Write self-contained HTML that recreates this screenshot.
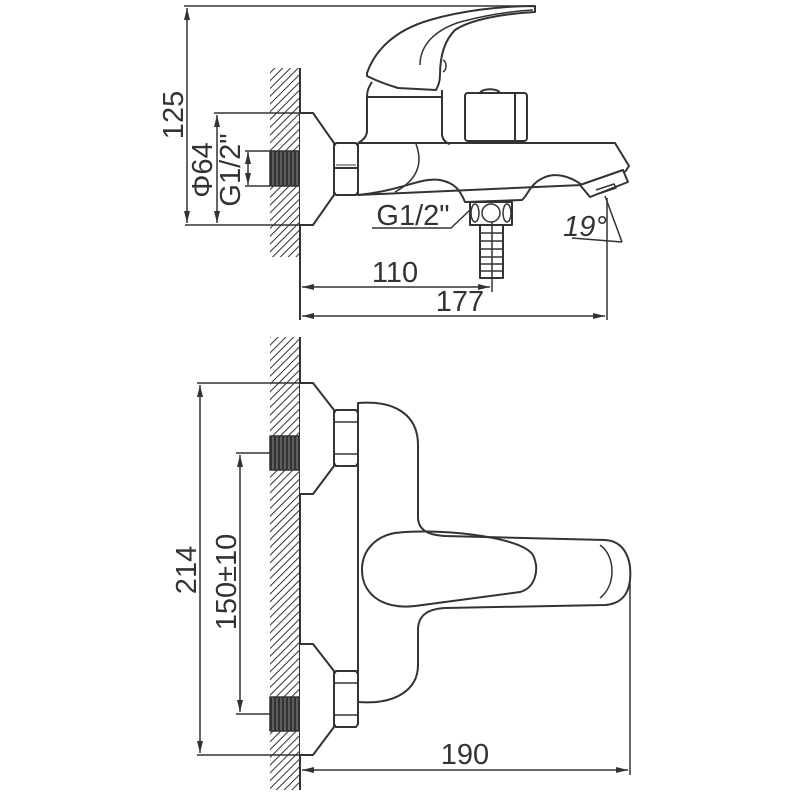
<!DOCTYPE html>
<html><head><meta charset="utf-8"><style>
html,body{margin:0;padding:0;background:#fff}
svg{display:block}
text{font-family:"Liberation Sans",Arial,sans-serif;fill:#333}
</style></head><body>
<svg width="800" height="800" viewBox="0 0 800 800" xmlns="http://www.w3.org/2000/svg">
<defs>
<pattern id="h" width="5.5" height="5.5" patternUnits="userSpaceOnUse" patternTransform="rotate(45)">
<line x1="0" y1="0" x2="0" y2="5.5" stroke="#333" stroke-width="2"/>
</pattern>
<pattern id="t" width="4" height="4" patternUnits="userSpaceOnUse">
<rect width="4" height="4" fill="#333"/><line x1="1" y1="0" x2="1" y2="4" stroke="#888" stroke-width="1"/>
</pattern>
<marker id="a" markerWidth="12" markerHeight="8" refX="12" refY="4" orient="auto" markerUnits="userSpaceOnUse">
<path d="M0,1 L12,4 L0,7 Z" fill="#333"/></marker>
<marker id="b" markerWidth="12" markerHeight="8" refX="0" refY="4" orient="auto" markerUnits="userSpaceOnUse">
<path d="M12,1 L0,4 L12,7 Z" fill="#333"/></marker>
</defs>
<g fill="none" stroke="#333" stroke-width="2" stroke-linejoin="round">
<!-- ===== TOP VIEW ===== -->
<rect x="270" y="68" width="29" height="189" fill="url(#h)" stroke="none"/>
<line x1="300" y1="68" x2="300" y2="320"/>
<rect x="270" y="151" width="29" height="35" fill="url(#t)" stroke="#333" stroke-width="1.5"/>
<path d="M300,113 L313,113 L334,143 L334,195 L313,225 L300,225" fill="#fff"/>
<path d="M336,143 L356,143 L358,146 L358,192 L356,195 L336,195 L334,192 L334,146 Z" fill="#fff"/>
<line x1="334" y1="168" x2="358" y2="168"/>
<line x1="336" y1="165" x2="356" y2="165" stroke-width="1"/>
<path d="M367,73 C375,50 395,30 430,20 C460,11 500,6 535,6 L535,12 C500,14 470,20 455,30 C445,40 440,55 440,75 C440,82 438,86 436,90 L398,88 C385,84 375,80 367,76 Z" fill="#fff"/>
<path d="M420,65 C420,45 435,30 460,22 C490,14 515,11 533,10" stroke-width="1.5"/>
<path d="M443,60 C447,62 447,70 443,72" stroke-width="1.5"/>
<path d="M372,82 C368,88 367,92 367,97 L367,132 C366,138 362,141 358,143 M442,90 L442,135 C443,140 446,143 450,144"/>
<line x1="367" y1="97" x2="442" y2="97"/>
<rect x="465" y="93" width="62" height="48" rx="3" fill="#fff"/>
<line x1="515" y1="93" x2="515" y2="141"/>
<path d="M480,93 C482,88 498,88 500,93"/>
<path d="M358,143 L615,143 L629,166 L625,172 M582,185 C570,176 555,172 543,178 C530,184 528,195 522,200 L465,202 C460,190 455,183 440,180 C420,177 405,190 358,195 Z" fill="none"/>
<line x1="358" y1="143" x2="358" y2="195"/>
<path d="M416,144 C422,160 421,178 395,192" stroke-width="1.5"/>
<path d="M580,185 L623,170 L628,182 L590,197 Z" fill="#fff"/>
<path d="M596,190 L614,184 L616,188 L598,194" stroke-width="1.5"/>
<rect x="470" y="202" width="42" height="23" fill="#fff"/>
<ellipse cx="475" cy="213" rx="4" ry="9" stroke-width="1.5"/>
<circle cx="491" cy="213" r="9" stroke-width="1.5"/>
<ellipse cx="507" cy="213" rx="4" ry="9" stroke-width="1.5"/>
<rect x="480" y="225" width="23" height="53" fill="#fff"/>
<path d="M480,233H503M480,241H503M480,249H503M480,257H503M480,264H503M480,271H503" stroke-width="1.5"/>
<line x1="492" y1="222" x2="492" y2="292" stroke-width="1.5"/>
<path d="M372,228 L451,228 L470,210" stroke-width="1.5"/>
<path d="M605,196 L622,242 M572,238 L622,242" stroke-width="1.5"/>
<line x1="184" y1="6" x2="535" y2="6" stroke-width="1.5"/>
<line x1="187" y1="8" x2="187" y2="223" stroke-width="1.5" marker-start="url(#b)" marker-end="url(#a)"/>
<line x1="185" y1="225" x2="300" y2="225" stroke-width="1.5"/>
<line x1="214" y1="113" x2="300" y2="113" stroke-width="1.5"/>
<line x1="217" y1="115" x2="217" y2="223" stroke-width="1.5" marker-start="url(#b)" marker-end="url(#a)"/>
<line x1="245" y1="151" x2="270" y2="151" stroke-width="1.5"/>
<line x1="245" y1="186" x2="270" y2="186" stroke-width="1.5"/>
<line x1="248" y1="152" x2="248" y2="185" stroke-width="1.5" marker-start="url(#b)" marker-end="url(#a)"/>
<line x1="302" y1="287" x2="490" y2="287" stroke-width="1.5" marker-start="url(#b)" marker-end="url(#a)"/>
<line x1="607" y1="198" x2="607" y2="320" stroke-width="1.5"/>
<line x1="302" y1="316" x2="605" y2="316" stroke-width="1.5" marker-start="url(#b)" marker-end="url(#a)"/>

<!-- ===== BOTTOM VIEW ===== -->
<rect x="270" y="337" width="29" height="453" fill="url(#h)" stroke="none"/>
<line x1="300" y1="337" x2="300" y2="790"/>
<rect x="270" y="436" width="29" height="34" fill="url(#t)" stroke="#333" stroke-width="1.5"/>
<rect x="270" y="697" width="29" height="34" fill="url(#t)" stroke="#333" stroke-width="1.5"/>
<path d="M300,383 L313,383 L334,410 L334,466 L313,494 L300,494" fill="#fff"/>
<path d="M300,644 L313,644 L334,671 L334,727 L313,755 L300,755" fill="#fff"/>
<path d="M336,410 L356,410 L358,413 L358,463 L356,466 L336,466 L334,463 L334,413 Z" fill="#fff"/>
<path d="M334,422H358M334,454H358" stroke-width="1.5"/>
<path d="M336,671 L356,671 L358,674 L358,724 L356,727 L336,727 L334,724 L334,674 Z" fill="#fff"/>
<path d="M334,683H358M334,715H358" stroke-width="1.5"/>
<path d="M358,403 C395,400 418,415 418,445 L418,517 C418,530 428,535 445,536 L605,540 C625,541 632,560 630,580 C628,598 618,604 605,605 L445,608 C428,609 418,615 418,630 L418,665 C418,690 395,705 358,702 Z" fill="#fff"/>
<path d="M395,533 C430,528 520,535 533,555 C540,570 535,588 520,592 L415,606 C380,610 362,592 362,570 C362,548 378,536 395,533 Z"/>
<path d="M600,545 C615,555 617,585 600,598" stroke-width="1.5"/>
<line x1="197" y1="383" x2="300" y2="383" stroke-width="1.5"/>
<line x1="197" y1="755" x2="300" y2="755" stroke-width="1.5"/>
<line x1="200" y1="385" x2="200" y2="753" stroke-width="1.5" marker-start="url(#b)" marker-end="url(#a)"/>
<line x1="236" y1="453" x2="270" y2="453" stroke-width="1.5"/>
<line x1="236" y1="714" x2="270" y2="714" stroke-width="1.5"/>
<line x1="240" y1="455" x2="240" y2="712" stroke-width="1.5" marker-start="url(#b)" marker-end="url(#a)"/>
<line x1="630" y1="582" x2="630" y2="775" stroke-width="1.5"/>
<line x1="302" y1="770" x2="628" y2="770" stroke-width="1.5" marker-start="url(#b)" marker-end="url(#a)"/>
</g>
<g font-size="29">
<text transform="translate(183,115) rotate(-90)" text-anchor="middle">125</text>
<text transform="translate(212,170) rotate(-90)" text-anchor="middle">Φ64</text>
<text transform="translate(240,170) rotate(-90)" text-anchor="middle">G1/2"</text>
<text x="413" y="225" text-anchor="middle">G1/2"</text>
<text x="585" y="236" text-anchor="middle" font-style="italic">19°</text>
<text x="395" y="282" text-anchor="middle">110</text>
<text x="460" y="311" text-anchor="middle">177</text>
<text transform="translate(196,570) rotate(-90)" text-anchor="middle">214</text>
<text transform="translate(236,582) rotate(-90)" text-anchor="middle">150±10</text>
<text x="465" y="764" text-anchor="middle">190</text>
</g>
</svg>
</body></html>
